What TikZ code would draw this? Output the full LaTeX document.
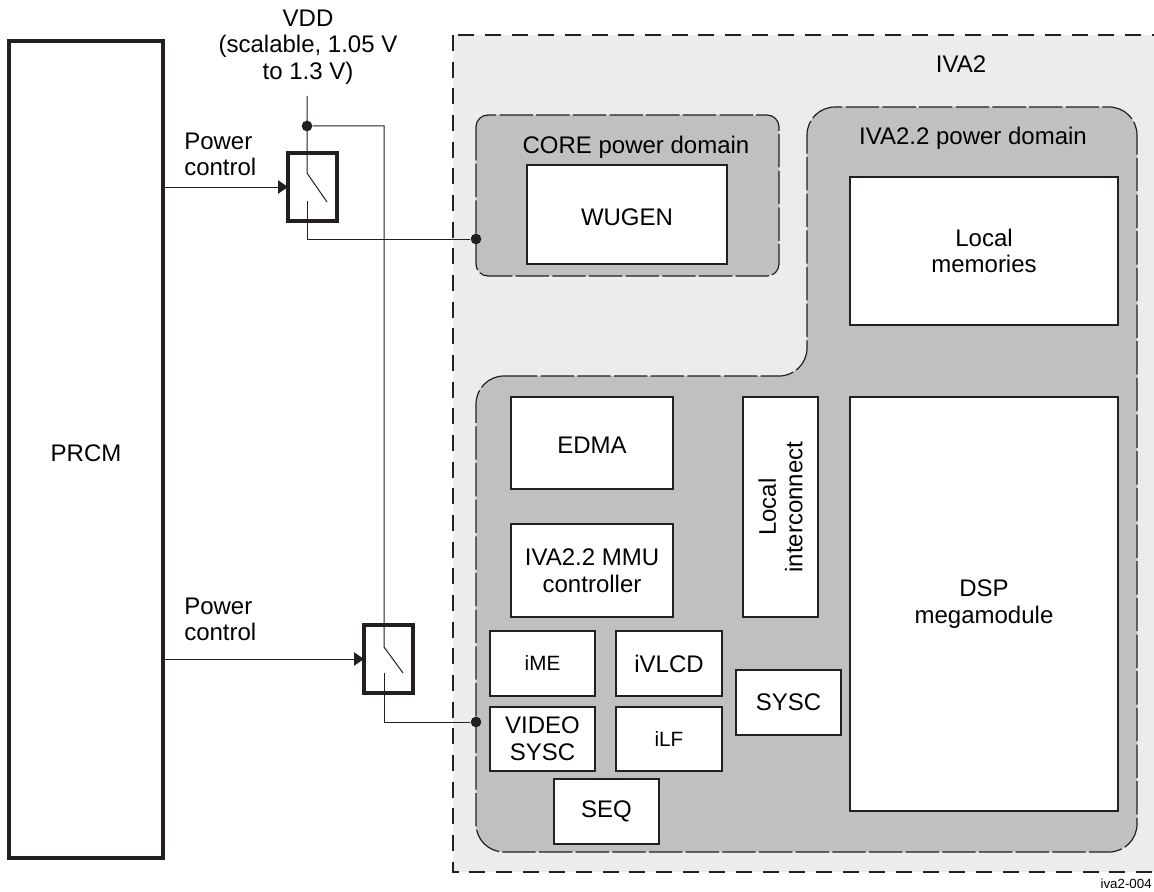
\documentclass[tikz,border=0pt]{standalone}
\usepackage{fontspec}
\setmainfont{Liberation Sans}
\usetikzlibrary{arrows.meta}
\usepackage{xcolor}
\definecolor{ivafill}{HTML}{ECECEC}
\definecolor{domfill}{HTML}{C0C0C0}
\definecolor{inkline}{HTML}{231F20}

\begin{document}
\begin{tikzpicture}[
  x=0.75pt, y=-0.75pt,
  wh/.style 2 args={minimum width=#1*0.75pt, minimum height=#2*0.75pt},
  unit/.style={draw=inkline, line width=2.2pt, fill=white, inner sep=0pt, outer sep=0pt, align=center, text=black, font=\fontsize{18}{20}\selectfont},
  lowtext/.style={unit, execute at begin node={\rule{0pt}{16pt}}},
  smallunit/.style={unit, font=\fontsize{15.5}{18}\selectfont},
  heavy/.style={draw=inkline, line width=3pt, inner sep=0pt, outer sep=0pt, align=center, font=\fontsize{18}{20}\selectfont},
  tag/.style={inner sep=0pt, align=center, font=\fontsize{18}{20}\selectfont},
  powerdom/.style={draw=inkline, line width=0.9pt, fill=domfill, dash pattern=on 25pt off 2.5pt},
  wire/.style={draw=inkline, line width=0.75pt},
  ctrl/.style={wire, -{Triangle[length=7.5pt, width=10pt, inkline]}},
  dot/.style={circle, fill=inkline, inner sep=0pt, minimum size=8pt}
]
\useasboundingbox (0,0) rectangle (1154,892);

% IVA2 boundary and power domains
\path[draw=inkline, fill=ivafill, line width=2.2pt, dash pattern=on 12pt off 8pt] (453,35) rectangle (1160,872);
\path[powerdom, rounded corners=9pt] (476,115) rectangle (779,276);
\path[powerdom, rounded corners=21pt] (476,376) -- (807,376) -- (807,107) -- (1137,107) -- (1137,852) -- (476,852) -- cycle;

% Domain blocks
\node[lowtext, wh={200}{99}] (wugen) at (627,214.5) {WUGEN};
\node[lowtext, wh={268}{148}] (memories) at (984,251) {Local\\memories};
\node[lowtext, wh={268}{414}] (dsp) at (984,604) {DSP\\megamodule};
\node[lowtext, wh={162}{92}] (edma) at (592,443) {EDMA};
\node[lowtext, wh={162}{93}] (mmu) at (592,570.5) {IVA2.2 MMU\\controller};
\node[unit, wh={220}{75}, rotate=90] (interconnect) at (780.5,507) {Local\\interconnect};
\node[smallunit, wh={105}{65}] (ime) at (542.5,663.5) {iME};
\node[unit, wh={106}{65}] (ivlcd) at (669,663.5) {iVLCD};
\node[lowtext, wh={105}{64}] (videosysc) at (542.5,739) {VIDEO\\SYSC};
\node[smallunit, wh={106}{64}] (ilf) at (669,739) {iLF};
\node[unit, wh={105}{65}] (seq) at (606.5,811.5) {SEQ};
\node[unit, wh={105}{65}] (sysc) at (788.5,702.5) {SYSC};

% PRCM and switches
\node[heavy, wh={154}{817}, execute at begin node={\rule{0pt}{18pt}}] (prcm) at (86,449.5) {PRCM};
\node[heavy, wh={49}{68}] (sw1) at (312.5,187) {};
\node[heavy, wh={49}{68}] (sw2) at (388.5,659) {};

% Labels
\node[tag] (vdd) at (308,47) {VDD\\(scalable, 1.05 V\\to 1.3 V)};
\node[tag, anchor=west, align=left] (ctrlone) at (184,154.5) {Power\\control};
\node[tag, anchor=west, align=left] (ctrltwo) at (184,619.5) {Power\\control};
\node[tag] (iva) at (961,64) {IVA2};
\node[tag] (corename) at (636,147) {CORE power domain};
\node[tag] (ivaname) at (973,138) {IVA2.2 power domain};
\node[tag, anchor=east, font=\fontsize{10}{12}\selectfont] (figid) at (1152,884) {iva2-004};

% Junctions and contacts
\node[dot] (vdddot) at (307,126) {};
\node[dot] (coredot) at (476,239) {};
\node[dot] (videodot) at (476,722) {};
\coordinate (vddtop) at (307,96);
\coordinate (sw1in) at (307,173);
\coordinate (sw1arm) at (327,202);
\coordinate (sw1out) at (307,201);
\coordinate (sw2in) at (384,647);
\coordinate (sw2arm) at (403,673);
\coordinate (sw2out) at (384,673);

% Connections
\draw[ctrl] (prcm.east |- sw1.west) -- (sw1.west);
\draw[ctrl] (prcm.east |- sw2.west) -- (sw2.west);
\draw[wire] (vddtop) -- (sw1in) -- (sw1arm);
\draw[wire] (sw1out) |- (coredot);
\draw[wire] (vdddot) -| (sw2in) -- (sw2arm);
\draw[wire] (sw2out) |- (videodot);

\end{tikzpicture}
\end{document}
